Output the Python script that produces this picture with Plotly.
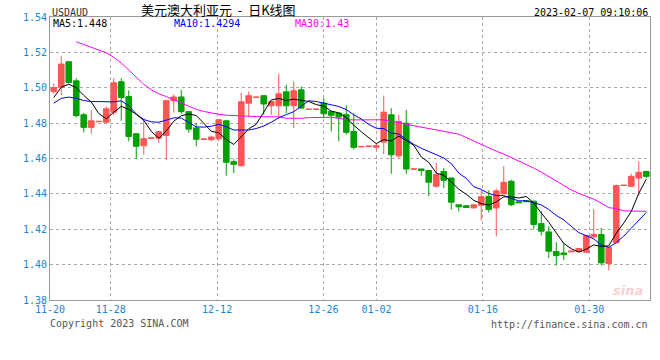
import plotly.graph_objects as go

# ---------------- data ----------------
opens = [1.4979, 1.5003, 1.5147, 1.5039, 1.4847, 1.4776, 1.4808, 1.4805, 1.4862, 1.5034,
         1.4950, 1.4740, 1.4672, 1.4714, 1.4715, 1.4730, 1.4927, 1.4948, 1.4865, 1.4773,
         1.4708, 1.4706, 1.4712, 1.4813, 1.4582, 1.4559, 1.4913, 1.4945, 1.4955, 1.4898,
         1.4898, 1.4977, 1.4898, 1.4988, 1.4877, 1.4877, 1.4913, 1.4866, 1.4857, 1.4848,
         1.4753, 1.4666, 1.4668, 1.4664, 1.4693, 1.4847, 1.4615, 1.4800, 1.4539, 1.4541,
         1.4532, 1.4443, 1.4526, 1.4490, 1.4338, 1.4333, 1.4321, 1.4335, 1.4386, 1.4320,
         1.4400, 1.4471, 1.4355, 1.4362, 1.4359, 1.4232, 1.4185, 1.4074, 1.4066, 1.4072,
         1.4074, 1.4070, 1.4157, 1.4170, 1.4006, 1.4123, 1.4447, 1.4443, 1.4490, 1.4526]
highs = [1.5024, 1.5180, 1.5150, 1.5054, 1.4857, 1.4873, 1.4810, 1.4894, 1.5054, 1.5054,
         1.4985, 1.4740, 1.4825, 1.4716, 1.4756, 1.4930, 1.4963, 1.4988, 1.4866, 1.4800,
         1.4710, 1.4728, 1.4820, 1.4815, 1.4596, 1.4973, 1.4979, 1.4947, 1.4955, 1.4925,
         1.5079, 1.5016, 1.5035, 1.5007, 1.4879, 1.4879, 1.4941, 1.4866, 1.4858, 1.4900,
         1.4856, 1.4668, 1.4670, 1.4686, 1.4955, 1.4885, 1.4848, 1.4875, 1.4541, 1.4541,
         1.4532, 1.4575, 1.4547, 1.4490, 1.4338, 1.4333, 1.4338, 1.4420, 1.4420, 1.4430,
         1.4556, 1.4480, 1.4355, 1.4362, 1.4359, 1.4302, 1.4217, 1.4127, 1.4123, 1.4076,
         1.4093, 1.4170, 1.4314, 1.4207, 1.4097, 1.4453, 1.4449, 1.4514, 1.4584, 1.4526]
lows = [1.4965, 1.4960, 1.5025, 1.4833, 1.4748, 1.4740, 1.4808, 1.4800, 1.4845, 1.4813,
        1.4697, 1.4596, 1.4622, 1.4714, 1.4688, 1.4592, 1.4860, 1.4852, 1.4746, 1.4669,
        1.4708, 1.4697, 1.4697, 1.4503, 1.4518, 1.4555, 1.4838, 1.4945, 1.4847, 1.4847,
        1.4827, 1.4857, 1.4772, 1.4883, 1.4877, 1.4877, 1.4829, 1.4753, 1.4697, 1.4735,
        1.4650, 1.4666, 1.4668, 1.4650, 1.4625, 1.4514, 1.4599, 1.4512, 1.4539, 1.4503,
        1.4387, 1.4434, 1.4434, 1.4311, 1.4300, 1.4323, 1.4317, 1.4250, 1.4295, 1.4159,
        1.4400, 1.4330, 1.4350, 1.4354, 1.4199, 1.4164, 1.4038, 1.3995, 1.4025, 1.4071,
        1.4072, 1.4068, 1.4151, 1.3995, 1.3968, 1.4123, 1.4447, 1.4443, 1.4390, 1.4490]
closes = [1.5001, 1.5134, 1.5030, 1.4842, 1.4776, 1.4813, 1.4810, 1.4881, 1.5028, 1.4945,
          1.4725, 1.4669, 1.4712, 1.4716, 1.4752, 1.4927, 1.4948, 1.4865, 1.4766, 1.4709,
          1.4710, 1.4721, 1.4819, 1.4579, 1.4567, 1.4921, 1.4955, 1.4947, 1.4908, 1.4922,
          1.4966, 1.4898, 1.4983, 1.4885, 1.4879, 1.4879, 1.4853, 1.4844, 1.4834, 1.4748,
          1.4663, 1.4668, 1.4670, 1.4672, 1.4862, 1.4621, 1.4810, 1.4541, 1.4541, 1.4532,
          1.4466, 1.4509, 1.4477, 1.4353, 1.4327, 1.4323, 1.4338, 1.4384, 1.4312, 1.4417,
          1.4465, 1.4339, 1.4350, 1.4356, 1.4227, 1.4189, 1.4076, 1.4051, 1.4057, 1.4076,
          1.4091, 1.4164, 1.4170, 1.4010, 1.4097, 1.4447, 1.4449, 1.4499, 1.4522, 1.4499]

# moving-average values before enough candles exist in view
ma5_head = [1.4945, 1.5003, 1.5020, 1.5000]                     # candles 0..3
ma10_head = [1.4913, 1.4940, 1.4947, 1.4940, 1.4928, 1.4922,
             1.4922, 1.4921, 1.4920]                             # candles 0..8
ma30_start = 3
ma30_head = [1.5260, 1.5245, 1.5230, 1.5215, 1.5198, 1.5172, 1.5140, 1.5100,
             1.5060, 1.5020, 1.4988, 1.4966, 1.4950, 1.4934, 1.4915, 1.4896,
             1.4878, 1.4866, 1.4856, 1.4850, 1.4845, 1.4842, 1.4840, 1.4838,
             1.4837, 1.4836]                                     # candles 3..28

tick_days = [0, 8, 22, 36, 43, 57, 71]          # calendar days after 11-20
tick_labels = ["11-20", "11-28", "12-12", "12-26", "01-02", "01-16", "01-30"]
total_days = 79

ma_labels = ["MA5:1.448", "MA10:1.4294", "MA30:1.43"]

# ---------------- derived ----------------
n = len(closes)
idx = list(range(n))


def moving(win, head, start=0):
    vals = [None] * start + list(head)
    for i in range(len(vals), n):
        vals.append(sum(closes[i - win + 1:i + 1]) / win)
    return vals


ma5 = moving(5, ma5_head)
ma10 = moving(10, ma10_head)
ma30 = moving(30, ma30_head, ma30_start)

# date grid is time based: 11-20 at the left edge, 02-07 at the right edge
tickvals = [-0.5 + d * n / total_days for d in tick_days]

RED = "#ff5555"
GREEN = "#00a000"
BLUE_TXT = "#1a84d4"
MONO = "DejaVu Sans Mono"

fig = go.Figure()
fig.add_trace(go.Candlestick(
    x=idx, open=opens, high=highs, low=lows, close=closes,
    increasing=dict(line=dict(color=RED, width=1), fillcolor=RED),
    decreasing=dict(line=dict(color=GREEN, width=1), fillcolor=GREEN),
    whiskerwidth=0, hoverinfo="skip", showlegend=False))
fig.add_trace(go.Scatter(x=idx, y=ma30, mode="lines",
                         line=dict(color="#ff00ff", width=1), showlegend=False, hoverinfo="skip"))
fig.add_trace(go.Scatter(x=idx, y=ma10, mode="lines",
                         line=dict(color="#0000ff", width=1), showlegend=False, hoverinfo="skip"))
fig.add_trace(go.Scatter(x=idx, y=ma5, mode="lines",
                         line=dict(color="#000000", width=1), showlegend=False, hoverinfo="skip"))

fig.update_layout(
    width=660, height=360,
    margin=dict(l=50, r=10, t=17, b=60),
    paper_bgcolor="white", plot_bgcolor="white",
    boxgap=0.25, boxgroupgap=0,
    showlegend=False,
    xaxis=dict(range=[-0.5, n - 0.5], tickvals=tickvals, ticktext=tick_labels,
               showgrid=True, gridcolor="#aaaaaa", griddash="dot", gridwidth=1,
               showline=True, linecolor="#999999", linewidth=1, mirror=True,
               zeroline=False, ticks="", rangeslider=dict(visible=False),
               tickfont=dict(family=MONO, size=10, color=BLUE_TXT)),
    yaxis=dict(range=[1.38, 1.54], dtick=0.02, tick0=1.38, tickformat=".2f",
               showgrid=True, gridcolor="#aaaaaa", griddash="dot", gridwidth=1,
               showline=True, linecolor="#999999", linewidth=1, mirror=True,
               zeroline=False, ticks="",
               tickfont=dict(family=MONO, size=10, color=BLUE_TXT)),
)


def px_x(px):
    return (px - 50) / 600.0


def px_y(py):
    return (300 - py) / 283.0


ann = [
    dict(text="USDAUD", x=px_x(51), y=px_y(12), xanchor="left",
         font=dict(family=MONO, size=10, color="#333333")),
    dict(text="美元澳大利亚元  -  日K线图", x=px_x(218), y=px_y(9), xanchor="center",
         font=dict(family="Noto Sans CJK SC", size=13, color="#000000")),
    dict(text="2023-02-07 09:10:06", x=px_x(649), y=px_y(12), xanchor="right",
         font=dict(family=MONO, size=10, color="#000000")),
    dict(text=ma_labels[0], x=px_x(52), y=px_y(24), xanchor="left",
         font=dict(family=MONO, size=10, color="#000000")),
    dict(text=ma_labels[1], x=px_x(173), y=px_y(24), xanchor="left",
         font=dict(family=MONO, size=10, color="#0000ff")),
    dict(text=ma_labels[2], x=px_x(294), y=px_y(24), xanchor="left",
         font=dict(family=MONO, size=10, color="#ff00ff")),
    dict(text="Copyright 2023 SINA.COM", x=px_x(49), y=px_y(323), xanchor="left",
         font=dict(family=MONO, size=10, color="#555555")),
    dict(text="http://finance.sina.com.cn", x=px_x(649), y=px_y(324), xanchor="right",
         font=dict(family=MONO, size=10, color="#555555")),
    dict(text="<b><i>sina</i></b>", x=px_x(628), y=px_y(290), xanchor="center",
         font=dict(family="DejaVu Sans", size=13, color="rgba(240,130,130,0.4)")),
]
for a in ann:
    a.update(xref="paper", yref="paper", yanchor="middle", showarrow=False, borderpad=0)
fig.update_layout(annotations=ann)

fig.write_html("out.html")
